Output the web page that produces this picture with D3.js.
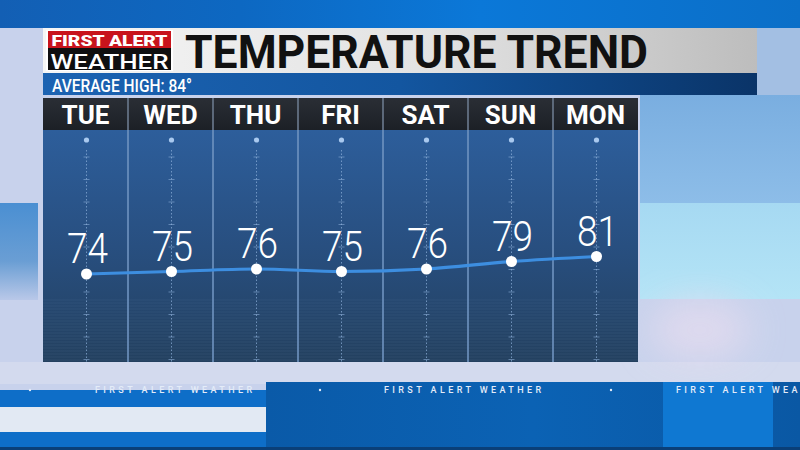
<!DOCTYPE html>
<html><head><meta charset="utf-8">
<script src="https://cdn.jsdelivr.net/npm/d3@7/dist/d3.min.js"></script>
<style>html,body{margin:0;padding:0;background:#c9d3ec;overflow:hidden}svg{display:block}</style>
</head><body>
<script>
const days = ["TUE","WED","THU","FRI","SAT","SUN","MON"];
const highs = [74,75,76,75,76,79,81];
const titleText = "TEMPERATURE TREND";
const subtitleText = "AVERAGE HIGH: 84°";
const logoTop = "FIRST ALERT";
const logoBottom = "WEATHER";
const bannerText = "FIRST ALERT WEATHER";

const W = 800, H = 450;
const svg = d3.select("body").append("svg").attr("width", W).attr("height", H);
const defs = svg.append("defs");

function lin(id, stops, x2 = 0, y2 = 1) {
  const g = defs.append("linearGradient").attr("id", id)
    .attr("x1", 0).attr("y1", 0).attr("x2", x2).attr("y2", y2);
  stops.forEach(s => g.append("stop").attr("offset", s[0]).attr("stop-color", s[1]));
}
lin("topband", [[0, "#135fb4"], [0.3, "#0d68c2"], [0.6, "#0b78d8"], [1, "#0b6fc8"]], 1, 0);
lin("titlebar", [[0, "#f6f6f6"], [0.55, "#e2e2e2"], [1, "#bdbdbd"]], 1, 0);
lin("subbar", [[0, "#1c63b2"], [0.5, "#1356a0"], [1, "#0a3468"]], 1, 0);
lin("colbody", [[0, "#2d5e9b"], [0.5, "#284f80"], [1, "#23405f"]]);
lin("colhead", [[0, "#2a2e35"], [1, "#1c2026"]]);
lin("bgright", [[0, "#7aaee0"], [1, "#8dbde8"]]);
lin("bgcyan", [[0, "#a6d9f2"], [1, "#b4e4f6"]]);
lin("bgleft", [[0, "#4a8fd2"], [0.6, "#6a9ed4"], [1, "#b9c8e8"]]);
lin("bgbottom", [[0, "#0a5aa8"], [0.5, "#0b62b4"], [1, "#0a58a4"]], 1, 0);
const blur = defs.append("filter").attr("id", "blur").attr("x", "-50%").attr("y", "-50%").attr("width", "200%").attr("height", "200%");
blur.append("feGaussianBlur").attr("stdDeviation", 18);

// background
svg.append("rect").attr("width", W).attr("height", H).attr("fill", "#c8d2ec");
svg.append("rect").attr("x", 0).attr("y", 362).attr("width", W).attr("height", 22).attr("fill", "#d3daee");
svg.append("rect").attr("x", 640).attr("y", 95).attr("width", 160).attr("height", 108).attr("fill", "url(#bgright)");
svg.append("rect").attr("x", 640).attr("y", 203).attr("width", 160).attr("height", 96).attr("fill", "url(#bgcyan)");
svg.append("rect").attr("x", 0).attr("y", 203).attr("width", 38).attr("height", 97).attr("fill", "url(#bgleft)");
svg.append("ellipse").attr("cx", 700).attr("cy", 330).attr("rx", 50).attr("ry", 30).attr("fill", "#e4dcef").attr("opacity", 0.8).attr("filter", "url(#blur)");
svg.append("ellipse").attr("cx", 720).attr("cy", 20).attr("rx", 40).attr("ry", 20).attr("fill", "#d8e4f2").attr("opacity", 0.6).attr("filter", "url(#blur)");
svg.append("rect").attr("width", W).attr("height", 28).attr("fill", "url(#topband)");
svg.append("rect").attr("x", 757).attr("y", 28).attr("width", 43).attr("height", 67).attr("fill", "#a3bfe3");

// title bar
svg.append("rect").attr("x", 43).attr("y", 28).attr("width", 714).attr("height", 45).attr("fill", "url(#titlebar)");
svg.append("rect").attr("x", 43).attr("y", 73).attr("width", 714).attr("height", 22).attr("fill", "url(#subbar)");

// logo
svg.append("rect").attr("x", 46).attr("y", 30).attr("width", 127).attr("height", 41).attr("fill", "#ffffff");
svg.append("rect").attr("x", 48).attr("y", 31).attr("width", 123).attr("height", 17).attr("fill", "#c8141c");
svg.append("rect").attr("x", 48).attr("y", 48).attr("width", 123).attr("height", 22).attr("fill", "#0f0f10");
svg.append("text").attr("x", 109.5).attr("y", 45.5).attr("text-anchor", "middle")
  .attr("font-family", "Roboto").attr("font-weight", 900).attr("font-size", 15.5)
  .attr("textLength", 116).attr("lengthAdjust", "spacingAndGlyphs").attr("fill", "#fff").text(logoTop);
svg.append("text").attr("x", 109.5).attr("y", 69).attr("text-anchor", "middle")
  .attr("font-family", "Roboto").attr("font-weight", 500).attr("font-size", 20.5)
  .attr("textLength", 118).attr("lengthAdjust", "spacingAndGlyphs").attr("fill", "#fff").text(logoBottom);

svg.append("text").attr("x", 185).attr("y", 68)
  .attr("font-family", "Roboto").attr("font-weight", 700).attr("font-size", 46)
  .attr("textLength", 463).attr("lengthAdjust", "spacingAndGlyphs").attr("fill", "#111").text(titleText);
svg.append("text").attr("x", 52).attr("y", 92)
  .attr("font-family", "Roboto").attr("font-weight", 500).attr("font-size", 19)
  .attr("textLength", 140).attr("lengthAdjust", "spacingAndGlyphs").attr("fill", "#fff").text(subtitleText);

// panel
const x = d3.scaleBand().domain(days).range([43, 638]).paddingInner(0);
const y = d3.scaleLinear().domain([70, 90]).range([284, 234]);
const cols = svg.append("g").selectAll("g").data(days).join("g");
cols.append("rect").attr("x", d => x(d)).attr("y", 130).attr("width", x.bandwidth()).attr("height", 232).attr("fill", "url(#colbody)");
cols.append("rect").attr("x", d => x(d)).attr("y", 98).attr("width", x.bandwidth()).attr("height", 32).attr("fill", "url(#colhead)");
// subtle texture at bottom
const tex = svg.append("g").attr("opacity", 0.1);
d3.range(300, 362, 3).forEach(yy => {
  tex.append("line").attr("x1", 43).attr("x2", 638).attr("y1", yy).attr("y2", yy).attr("stroke", "#9bb8d8").attr("stroke-width", 0.8);
});
// separators
svg.append("g").selectAll("line").data(days.slice(1)).join("line")
  .attr("x1", d => x(d)).attr("x2", d => x(d)).attr("y1", 98).attr("y2", 362)
  .attr("stroke", "#6f93c0").attr("stroke-width", 1.6);
svg.append("g").selectAll("line").data(days.slice(1)).join("line")
  .attr("x1", d => x(d)).attr("x2", d => x(d)).attr("y1", 98).attr("y2", 130)
  .attr("stroke", "#5c6470").attr("stroke-width", 1.6);

const cx = d => x(d) + x.bandwidth() / 2 + 1;
// dashed guides
cols.append("line").attr("x1", cx).attr("x2", cx).attr("y1", 150).attr("y2", 362)
  .attr("stroke", "#8fb2dc").attr("stroke-width", 1).attr("stroke-dasharray", "1.5,2").attr("opacity", 0.7);
cols.each(function(d) {
  const g = d3.select(this);
  d3.range(157, 362, 22.5).forEach(t => {
    g.append("line").attr("x1", cx(d) - 3).attr("x2", cx(d) + 3).attr("y1", t).attr("y2", t)
      .attr("stroke", "#8fb2dc").attr("stroke-width", 1).attr("opacity", 0.55);
  });
});
cols.append("circle").attr("cx", cx).attr("cy", 140).attr("r", 2.6).attr("fill", "#a9c9ef");
cols.append("text").attr("x", d => x(d) + x.bandwidth() / 2).attr("y", 124).attr("text-anchor", "middle")
  .attr("font-family", "Roboto").attr("font-weight", 700).attr("font-size", 26).attr("fill", "#fff").text(d => d);

// line
const pts = days.map((d, i) => [cx(d), y(highs[i])]);
svg.append("path").attr("d", d3.line().curve(d3.curveMonotoneX)(pts))
  .attr("fill", "none").attr("stroke", "#3d8ee0").attr("stroke-width", 3.2);
svg.append("g").selectAll("circle").data(days).join("circle")
  .attr("cx", cx).attr("cy", (d, i) => y(highs[i])).attr("r", 5.5).attr("fill", "#fff");
svg.append("g").selectAll("text").data(days).join("text")
  .attr("x", d => cx(d) + 1).attr("y", (d, i) => y(highs[i]) - 11).attr("text-anchor", "middle")
  .attr("font-family", "Roboto").attr("font-weight", 300).attr("font-size", 42)
  .attr("textLength", 41).attr("lengthAdjust", "spacingAndGlyphs")
  .attr("fill", "#fff").text((d, i) => highs[i]);

// bottom banner
svg.append("rect").attr("x", 0).attr("y", 390).attr("width", 266).attr("height", 60).attr("fill", "#0e6ec8");
svg.append("rect").attr("x", 0).attr("y", 407).attr("width", 266).attr("height", 25).attr("fill", "#e2e9f3");
svg.append("rect").attr("x", 266).attr("y", 382).attr("width", 534).attr("height", 68).attr("fill", "url(#bgbottom)");
svg.append("rect").attr("x", 663).attr("y", 382).attr("width", 110).attr("height", 68).attr("fill", "#0f78d2");
svg.append("rect").attr("x", 0).attr("y", 447).attr("width", W).attr("height", 3).attr("fill", "#0a3f78");
[95, 384, 676].forEach(bx => {
  svg.append("text").attr("x", bx).attr("y", 393)
    .attr("font-family", "Roboto").attr("font-weight", 500).attr("font-size", 9)
    .attr("letter-spacing", 3.4).attr("fill", "#e4ecf8").text(bannerText);
});
[30, 320, 611].forEach(dx => svg.append("circle").attr("cx", dx).attr("cy", 390).attr("r", 1.2).attr("fill", "#e4ecf8"));
</script>
</body></html>
